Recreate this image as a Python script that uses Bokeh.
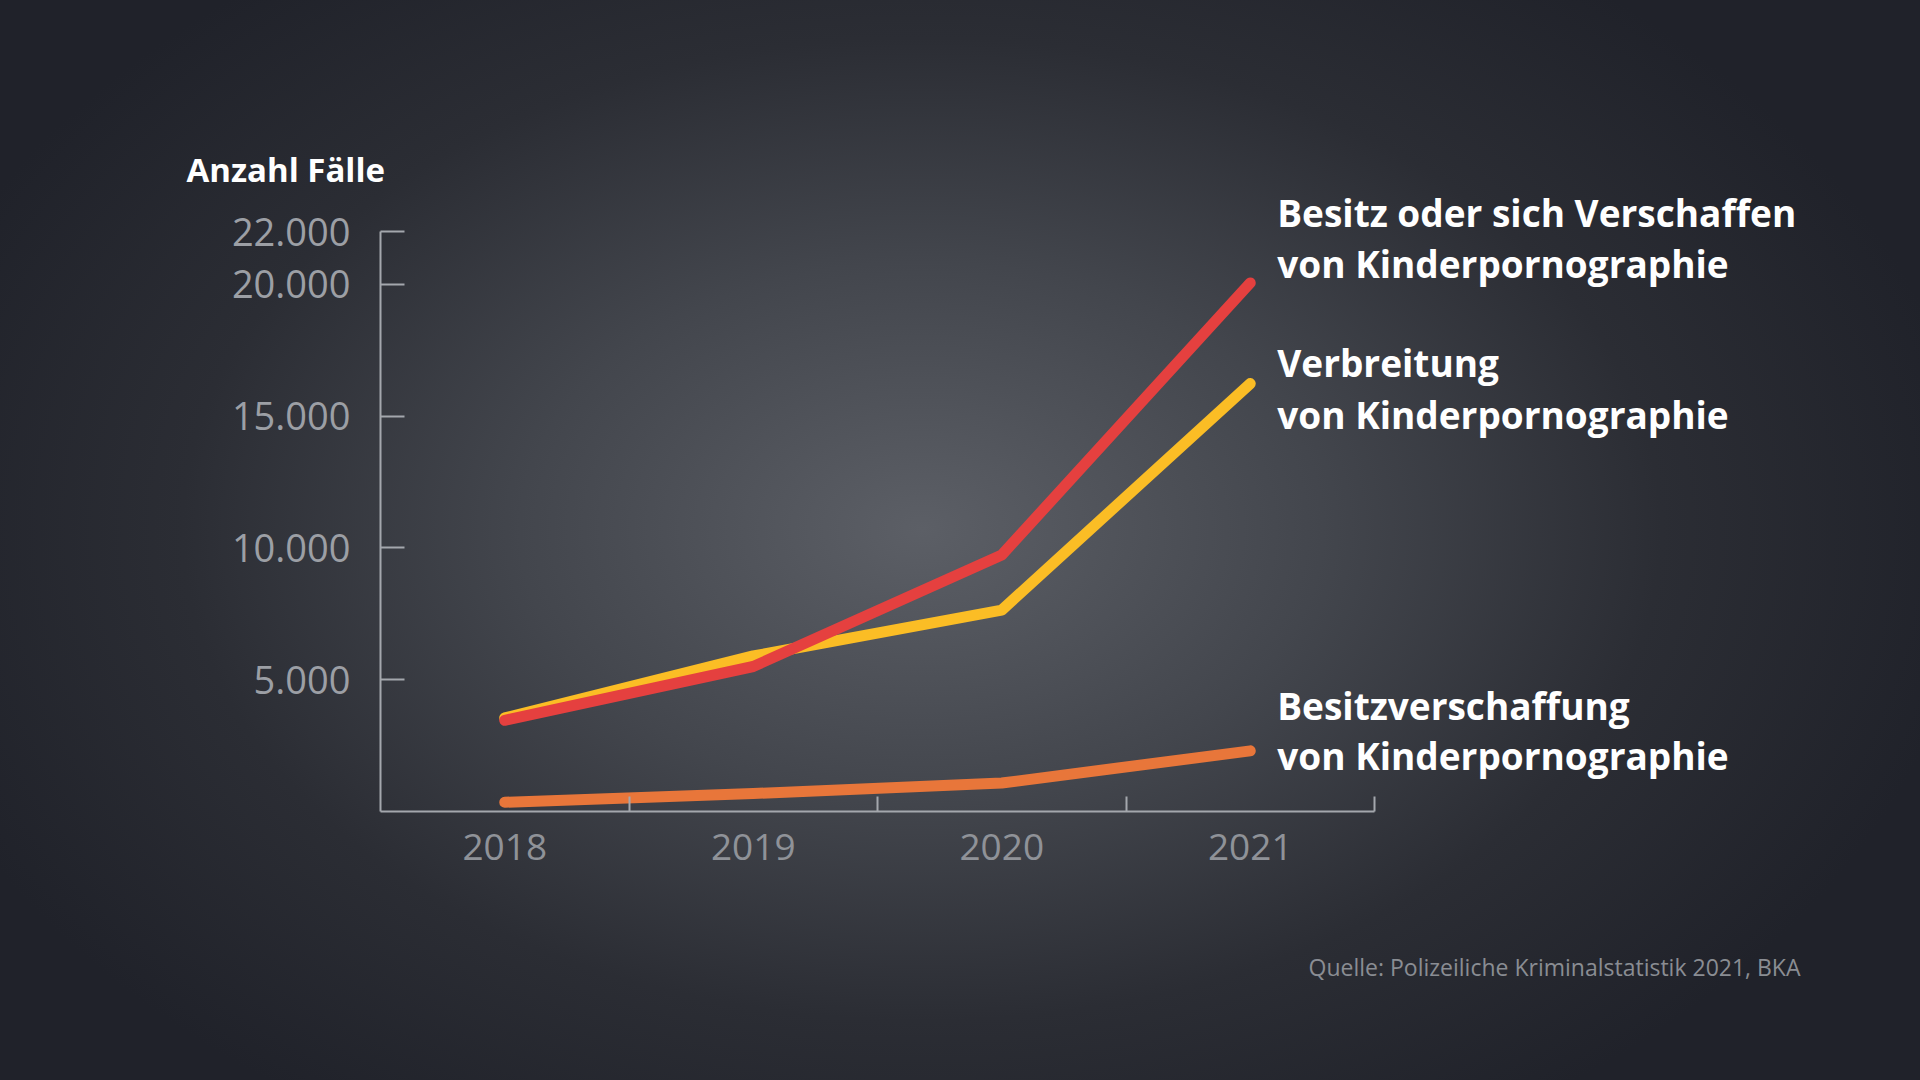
from bokeh.plotting import figure
from bokeh.models import FixedTicker, Label, Range1d
from bokeh.embed import file_html
from bokeh.resources import INLINE

# ---- data ----
years = [2018, 2019, 2020, 2021]
besitz_verschaffen = [3460, 5500, 9730, 20050]      # Besitz oder sich Verschaffen
verbreitung = [3550, 5900, 7640, 16230]             # Verbreitung
besitzverschaffung = [350, 680, 1080, 2300]         # Besitzverschaffung
series_labels = [
    ["Besitz oder sich Verschaffen", "von Kinderpornographie"],
    ["Verbreitung", "von Kinderpornographie"],
    ["Besitzverschaffung", "von Kinderpornographie"],
]
y_ticks = [5000, 10000, 15000, 20000, 22000]
y_tick_labels = ["5.000", "10.000", "15.000", "20.000", "22.000"]
year_labels = ["2018", "2019", "2020", "2021"]
y_title = "Anzahl Fälle"
source_text = "Quelle: Polizeiliche Kriminalstatistik 2021, BKA"

# ---- layout of the plotting area (pixels in a 1920x1080 canvas) ----
W, H = 1920, 1080
x_lo, x_hi = years[0] - 0.5, years[-1] + 0.5      # axis extent in data units
y_lo, y_hi = 0, 22000
px_left, px_right = 380, 1374                      # where x_lo / x_hi sit
px_bottom, px_top = 269, 849                       # where y_lo / y_hi sit (from bottom)
xs = (x_hi - x_lo) / (px_right - px_left)
ys = (y_hi - y_lo) / (px_top - px_bottom)
x_range = Range1d(x_lo - px_left * xs, x_hi + (W - px_right) * xs)
y_range = Range1d(y_lo - px_bottom * ys, y_hi + (H - px_top) * ys)

p = figure(width=W, height=H, output_backend="svg", toolbar_location=None,
           x_range=x_range, y_range=y_range, min_border=0)
p.background_fill_alpha = 0
p.border_fill_alpha = 0
p.outline_line_color = None
p.grid.visible = False
p.styles = {"background": "radial-gradient(ellipse 55% 65% at 48% 49%, #5c5f66 0%, #43464d 38%, #2b2d34 70%, #20222a 100%)"}

axis_col = "#a4a7ad"
# y axis
p.yaxis.fixed_location = x_lo
p.yaxis.bounds = (y_lo, y_hi)
p.yaxis.ticker = FixedTicker(ticks=y_ticks, minor_ticks=[])
p.yaxis.major_label_overrides = {t: l for t, l in zip(y_ticks, y_tick_labels)}
p.yaxis.axis_line_color = axis_col
p.yaxis.axis_line_width = 2
p.yaxis.major_tick_line_color = axis_col
p.yaxis.major_tick_line_width = 2
p.yaxis.major_tick_in = 24
p.yaxis.major_tick_out = 0
p.yaxis.minor_tick_line_color = None
p.yaxis.major_label_standoff = 30
p.yaxis.major_label_text_font = "Open Sans"
p.yaxis.major_label_text_font_size = "38px"
p.yaxis.major_label_text_color = "#9c9fa5"

# x axis
p.xaxis.fixed_location = y_lo
p.xaxis.bounds = (x_lo, x_hi)
p.xaxis.ticker = FixedTicker(ticks=years, minor_ticks=[y + 0.5 for y in years])
p.xaxis.major_label_overrides = {y: l for y, l in zip(years, year_labels)}
p.xaxis.axis_line_color = axis_col
p.xaxis.axis_line_width = 2
p.xaxis.major_tick_line_color = None
p.xaxis.major_tick_in = 0
p.xaxis.major_tick_out = 0
p.xaxis.minor_tick_line_color = axis_col
p.xaxis.minor_tick_line_width = 2
p.xaxis.minor_tick_in = 15
p.xaxis.minor_tick_out = 0
p.xaxis.major_label_standoff = 22
p.xaxis.major_label_text_font = "Open Sans"
p.xaxis.major_label_text_font_size = "37px"
p.xaxis.major_label_text_color = "#8f9298"

# ---- lines ----
colors = ["#e5403f", "#fbbd25", "#e8763a"]
series = [besitz_verschaffen, verbreitung, besitzverschaffung]
draw_order = [2, 1, 0]
for i in draw_order:
    p.line(years, series[i], line_color=colors[i], line_width=11,
           line_cap="round", line_join="round")

# ---- series labels ----
line_offsets = [(70, 19), (21, -31), (45, -5)]
for vals, lines, offs in zip(series, series_labels, line_offsets):
    for txt, off in zip(lines, offs):
        p.add_layout(Label(x=years[-1], y=vals[-1], x_offset=27, y_offset=off,
                           text=txt, text_font="Open Sans", text_font_style="bold",
                           text_font_size="37px", text_color="#ffffff",
                           text_baseline="middle", text_align="left"))

# ---- title and source ----
p.add_layout(Label(x=186, y=H - 169, x_units="screen", y_units="screen", text=y_title,
                   text_font="Open Sans", text_font_style="bold", text_font_size="33px",
                   text_color="#ffffff", text_baseline="middle", text_align="left"))
p.add_layout(Label(x=1800, y=H - 966, x_units="screen", y_units="screen", text=source_text,
                   text_font="Open Sans", text_font_size="23px",
                   text_color="#8a8d93", text_baseline="middle", text_align="right"))

open("out.html", "w").write(file_html(p, INLINE))
